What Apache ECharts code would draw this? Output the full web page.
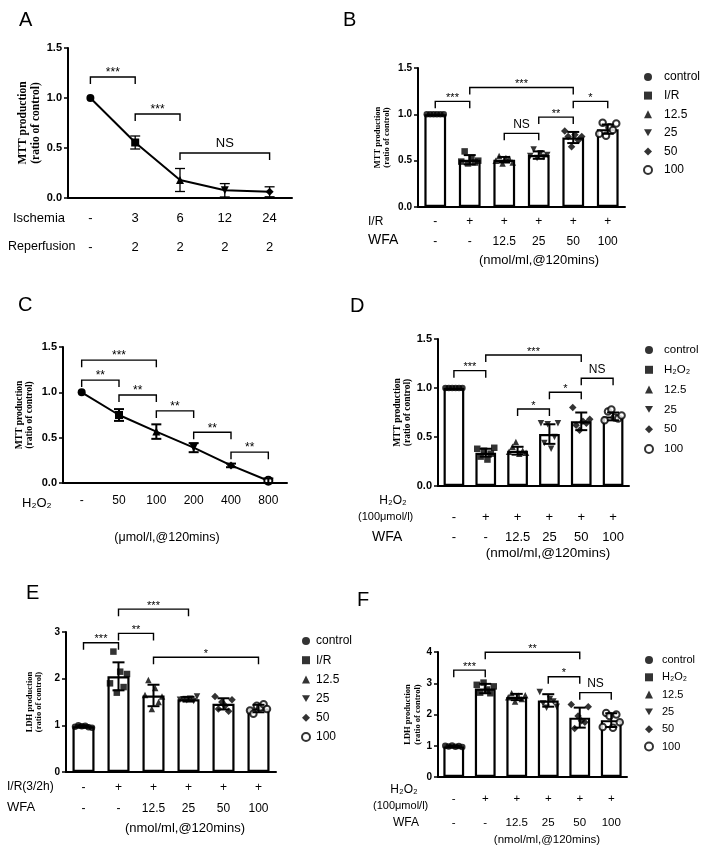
<!DOCTYPE html>
<html><head><meta charset="utf-8">
<script src="https://cdn.jsdelivr.net/npm/echarts@6/dist/echarts.min.js"></script>
<style>html,body{margin:0;padding:0;background:#fff}#c{width:701px;height:853px}</style>
</head><body><div id="c"></div><script>
// ---------------- DATA ----------------
// Panel A (MTT, ischemia/reperfusion time course)
const ischemiaA = ['-','3','6','12','24'];
const reperfusionA = ['-','2','2','2','2'];
const meanA = [1.0, 0.555, 0.18, 0.077, 0.062];
const sdA = [0, 0.065, 0.115, 0.067, 0.05];
const sigA = [[0,1,1.21,'***'],[1,2,0.84,'***'],[2,4,0.45,'NS']];

// Shared row labels for WFA panels
const irRow = ['-','+','+','+','+','+'];
const wfaRow = ['-','-','12.5','25','50','100'];
const groupsIR = ['control','I/R','12.5','25','50','100'];
const groupsH2O2 = ['control','H₂O₂','12.5','25','50','100'];

// Panel B (MTT, I/R + WFA)
const meanB = [1.0, 0.51, 0.51, 0.56, 0.75, 0.84];
const sdB = [0, 0.05, 0.03, 0.04, 0.06, 0.05];
const ptsB = [
  [1.0,1.0,1.0,1.0,1.0,1.0],
  [0.49,0.60,0.47,0.53,0.48,0.50],
  [0.50,0.55,0.47,0.53,0.52,0.48],
  [0.55,0.62,0.53,0.58,0.54,0.56],
  [0.82,0.76,0.65,0.78,0.72,0.76],
  [0.79,0.91,0.77,0.86,0.83,0.90]
];
const sigB = [[0,1,1.14,'***'],[1,4,1.29,'***'],[2,3,0.795,'NS'],[3,4,0.97,'**'],[4,5,1.14,'*']];

// Panel C (MTT, H2O2 dose response)
const dosesC = ['-','50','100','200','400','800'];
const meanC = [1.0, 0.75, 0.567, 0.39, 0.194, 0.025];
const sdC = [0, 0.065, 0.08, 0.05, 0.02, 0.025];
const sigC = [[0,2,1.355,'***'],[0,1,1.135,'**'],[1,2,0.97,'**'],[2,3,0.795,'**'],[3,4,0.56,'**'],[4,5,0.34,'**']];

// Panel D (MTT, H2O2 + WFA)
const meanD = [1.0, 0.34, 0.36, 0.53, 0.66, 0.71];
const sdD = [0, 0.04, 0.04, 0.1, 0.09, 0.04];
const ptsD = [
  [1.0,1.0,1.0,1.0,1.0,1.0],
  [0.38,0.30,0.36,0.27,0.33,0.39],
  [0.35,0.40,0.45,0.33,0.36,0.34],
  [0.64,0.44,0.63,0.38,0.50,0.64],
  [0.80,0.62,0.57,0.66,0.64,0.68],
  [0.67,0.76,0.78,0.70,0.69,0.72]
];
const sigD = [[0,1,1.177,'***'],[1,4,1.337,'***'],[2,3,0.786,'*'],[3,4,0.956,'*'],[4,5,1.10,'NS']];

// Panel E (LDH, I/R + WFA)
const meanE = [0.98, 2.05, 1.64, 1.56, 1.46, 1.36];
const sdE = [0.02, 0.30, 0.23, 0.05, 0.12, 0.08];
const ptsE = [
  [0.97,1.00,0.98,0.99,0.96,0.95],
  [1.90,2.58,1.70,2.15,1.82,2.10],
  [1.65,1.97,1.35,1.80,1.50,1.62],
  [1.55,1.56,1.54,1.57,1.52,1.62],
  [1.62,1.35,1.50,1.42,1.30,1.55],
  [1.32,1.25,1.42,1.38,1.45,1.35]
];
const sigE = [[0,1,2.77,'***'],[1,2,2.97,'**'],[1,3,3.49,'***'],[2,5,2.46,'*']];

// Panel F (LDH, H2O2 + WFA)
const meanF = [0.98, 2.83, 2.56, 2.45, 1.90, 1.82];
const sdF = [0.02, 0.15, 0.10, 0.20, 0.32, 0.22];
const ptsF = [
  [1.00,0.98,1.01,0.97,0.99,0.96],
  [2.95,2.70,3.02,2.80,2.68,2.90],
  [2.55,2.68,2.42,2.60,2.50,2.62],
  [2.72,2.35,2.22,2.50,2.42,2.25],
  [2.32,1.55,1.95,1.80,1.75,2.25],
  [1.60,2.05,1.95,1.58,2.00,1.75]
];
const sigF = [[0,1,3.42,'***'],[1,4,3.99,'**'],[3,4,3.21,'*'],[4,5,2.70,'NS']];

// ---------------- STYLE ----------------
const FONT = '"Liberation Sans", Arial, sans-serif';
const SERIF = '"Liberation Serif", "Times New Roman", serif';
const groupSymbols = ['circle','rect','triangle','triangle','diamond','circle'];
const groupRotate = [0,0,0,180,0,0];
const legendIcons = ['circle','rect','triangle','path://M0,0L10,0L5,8.66Z','diamond','circle'];

const option = {animation:false, backgroundColor:'#fff', textStyle:{fontFamily:FONT},
  grid:[], xAxis:[], yAxis:[], series:[], legend:[], graphic:[]};

function addAxes(k, g, cats, fmt, xl, ymax, yint, yfmt, yl) {
  option.grid.push({left:g[0], top:g[1], width:g[2], height:g[3], containLabel:false, outerBoundsMode:'none'});
  option.xAxis.push({type:'category', gridIndex:k, data:cats, boundaryGap:true,
    axisLine:{lineStyle:{color:'#000', width:2}},
    axisTick:{alignWithLabel:true, length:4, lineStyle:{color:'#000', width:1.5}},
    axisLabel:Object.assign({interval:0, color:'#000', fontFamily:FONT, formatter:fmt}, xl),
    splitLine:{show:false}});
  option.yAxis.push({type:'value', gridIndex:k, min:0, max:ymax, interval:yint,
    axisLine:{show:true, lineStyle:{color:'#000', width:2}},
    axisTick:{show:true, length:4, lineStyle:{color:'#000', width:1.5}},
    axisLabel:{color:'#000', fontWeight:'bold', fontFamily:FONT, fontSize:yl.labSize, margin:6, formatter:yfmt},
    splitLine:{show:false},
    name:yl.name, nameLocation:'middle', nameRotate:90, nameGap:yl.gap,
    nameTextStyle:{fontFamily:SERIF, fontWeight:'bold', fontSize:yl.size, lineHeight:yl.size+1, color:'#000'}});
}

function errSeries(k, means, sds, capW, lw) {
  return {type:'custom', xAxisIndex:k, yAxisIndex:k, z:5, silent:true,
    data: means.map((m,i)=>[i, m-sds[i], m+sds[i]]),
    renderItem(params, api) {
      if (api.value(2) - api.value(1) <= 0.0001) return null;
      const lo = api.coord([api.value(0), api.value(1)]);
      const hi = api.coord([api.value(0), api.value(2)]);
      const s = {stroke:'#000', lineWidth:lw};
      return {type:'group', children:[
        {type:'line', shape:{x1:lo[0],y1:lo[1],x2:hi[0],y2:hi[1]}, style:s},
        {type:'line', shape:{x1:hi[0]-capW/2,y1:hi[1],x2:hi[0]+capW/2,y2:hi[1]}, style:s},
        {type:'line', shape:{x1:lo[0]-capW/2,y1:lo[1],x2:lo[0]+capW/2,y2:lo[1]}, style:s}
      ]};
    }};
}

function sigSeries(k, sig, fs) {
  return {type:'custom', xAxisIndex:k, yAxisIndex:k, z:6, clip:false, silent:true,
    data: sig.map(s=>[s[0], s[1], s[2]]),
    renderItem(params, api) {
      const a = api.coord([api.value(0), api.value(2)]);
      const b = api.coord([api.value(1), api.value(2)]);
      const lab = sig[params.dataIndex][3];
      const isNS = lab === 'NS';
      return {type:'group', children:[
        {type:'polyline', shape:{points:[[a[0],a[1]+7],[a[0],a[1]],[b[0],b[1]],[b[0],b[1]+7]]},
          style:{stroke:'#000', lineWidth:1.4, fill:null}},
        {type:'text', x:(a[0]+b[0])/2, y: isNS ? a[1]-3 : a[1]+2,
          style:{text:lab, fill:'#000', font:(isNS? fs+1 : fs)+'px '+FONT, align:'center', verticalAlign:'bottom'}}
      ]};
    }};
}

function barPanel(k, means, sds, pts, names, barW, symSize) {
  option.series.push({type:'bar', xAxisIndex:k, yAxisIndex:k, data:means, barWidth:barW, z:2, silent:true,
    itemStyle:{color:'#fff', borderColor:'#000', borderWidth:2.2}});
  pts.forEach((arr, j) => {
    const empty = j === 5;
    option.series.push({type:'scatter', name:names[j], xAxisIndex:k, yAxisIndex:k, z:3, silent:true,
      symbol:groupSymbols[j], symbolRotate:groupRotate[j], symbolSize: j===4 ? symSize+1 : symSize,
      itemStyle: empty ? {color:'#fff', borderColor:'#000', borderWidth:2} : {color:'#000'},
      data: arr.map((v,i)=>({value:[j, v], symbolOffset:[(i-2.5)*3.4, 0]}))});
  });
  option.series.push(errSeries(k, means, sds, 12, 2));
}

function linePanel(k, means, sds, capW, lw) {
  option.series.push({type:'line', xAxisIndex:k, yAxisIndex:k, z:3, silent:true,
    lineStyle:{color:'#000', width:2}, symbolSize:8,
    data: means.map((v,i)=>({value:v, symbol:groupSymbols[i], symbolRotate:groupRotate[i],
      itemStyle: i===5 ? {color:'#fff', borderColor:'#000', borderWidth:2} : {color:'#000'}}))});
  option.series.push(errSeries(k, means, sds, capW, lw));
}

function addLegend(names, left, top, gap, fs, pad) {
  option.legend.push({orient:'vertical', left:left, top:top, padding:0, itemWidth:8, itemHeight:8, itemGap:gap,
    selectedMode:false,
    textStyle:{color:'#000', fontFamily:FONT, fontSize:fs, lineHeight:14, padding:[0,0,0,pad]},
    data: names.map((n,i)=>({name:n, icon:legendIcons[i]}))});
}

function T(text, x, y, fs, align) {
  option.graphic.push({type:'text', x:x, y:y, silent:true,
    style:{text:text, fill:'#000', font:fs+'px '+FONT, align:align||'left', verticalAlign:'middle'}});
}

const f1 = v => v.toFixed(1);
const f0 = v => String(v);

// Panel A
addAxes(0, [68,48,224,150], ischemiaA, (v,i)=> v + '\n' + reperfusionA[i],
  {fontSize:13, lineHeight:29, margin:6}, 1.5, 0.5, f1,
  {name:'MTT production\n(ratio of control)', size:11.5, gap:26, labSize:11});
linePanel(0, meanA, sdA, 10, 1.3);
option.series.push(sigSeries(0, sigA, 12));

// Panel B
addAxes(1, [418,68,207,139], irRow, (v,i)=> v + '\n' + wfaRow[i],
  {fontSize:12, lineHeight:20, margin:5}, 1.5, 0.5, f1,
  {name:'MTT production\n(ratio of control)', size:8.5, gap:26, labSize:10});
barPanel(1, meanB, sdB, ptsB, groupsIR, '63%', 6.5);
option.series.push(sigSeries(1, sigB, 11));
addLegend(groupsIR, 643, 70, 4.6, 12, 7);

// Panel C
addAxes(2, [63,347,224,136], dosesC, null,
  {fontSize:12, margin:12}, 1.5, 0.5, f1,
  {name:'MTT production\n(ratio of control)', size:9.5, gap:28, labSize:11});
linePanel(2, meanC, sdC, 10, 2);
option.series.push(sigSeries(2, sigC, 12));

// Panel D
addAxes(3, [438,339,191,147], irRow, (v,i)=> v + '\n' + wfaRow[i],
  {fontSize:13, lineHeight:20, margin:21}, 1.5, 0.5, f1,
  {name:'MTT production\n(ratio of control)', size:9.5, gap:20, labSize:11});
barPanel(3, meanD, sdD, ptsD, groupsH2O2, '65%', 6.5);
option.series.push(sigSeries(3, sigD, 11));
addLegend(groupsH2O2, 644, 343, 5.8, 11.5, 6);

// Panel E
addAxes(4, [66,632,210,140], irRow, (v,i)=> v + '\n' + wfaRow[i],
  {fontSize:12, lineHeight:21, margin:5}, 3, 1, f0,
  {name:'LDH production\n(ratio of control)', size:8.5, gap:22, labSize:10});
barPanel(4, meanE, sdE, ptsE, groupsIR, '63%', 6.5);
option.series.push(sigSeries(4, sigE, 11));
addLegend(groupsIR, 301, 634, 5.2, 12, 1);

// Panel F
addAxes(5, [438,652,189,125], irRow, (v,i)=> v + '\n' + wfaRow[i],
  {fontSize:11.5, lineHeight:24, margin:10}, 4, 1, f0,
  {name:'LDH production\n(ratio of control)', size:8.5, gap:11, labSize:10});
barPanel(5, meanF, sdF, ptsF, groupsH2O2, '66%', 6.5);
option.series.push(sigSeries(5, sigF, 11));
addLegend(groupsH2O2, 644, 653, 3.3, 11, 4);

// Panel letters
T('A', 19, 20, 20); T('B', 343, 20, 20); T('C', 18, 305, 20);
T('D', 350, 306, 20); T('E', 26, 593, 20); T('F', 357, 600, 20);

// Row headers
T('Ischemia', 13, 218, 13); T('Reperfusion', 8, 247, 12.5);
T('I/R', 368, 222, 12); T('WFA', 368, 240, 14);
T('H₂O₂', 22, 503, 13);
T('H₂O₂', 393, 501, 12, 'center'); T('(100μmol/l)', 358, 517, 11); T('WFA', 372, 537, 14);
T('I/R(3/2h)', 7, 787, 12); T('WFA', 7, 807, 13);
T('H₂O₂', 404, 790, 12, 'center'); T('(100μmol/l)', 373, 806, 11); T('WFA', 393, 823, 12);

// Unit captions
T('(nmol/ml,@120mins)', 539, 260, 13, 'center');
T('(μmol/l,@120mins)', 167, 538, 12.5, 'center');
T('(nmol/ml,@120mins)', 548, 553, 13.5, 'center');
T('(nmol/ml,@120mins)', 185, 828, 13, 'center');
T('(nmol/ml,@120mins)', 547, 840, 11.5, 'center');

const chart = echarts.init(document.getElementById('c'), null, {renderer:'canvas'});
chart.setOption(option);
</script></body></html>
